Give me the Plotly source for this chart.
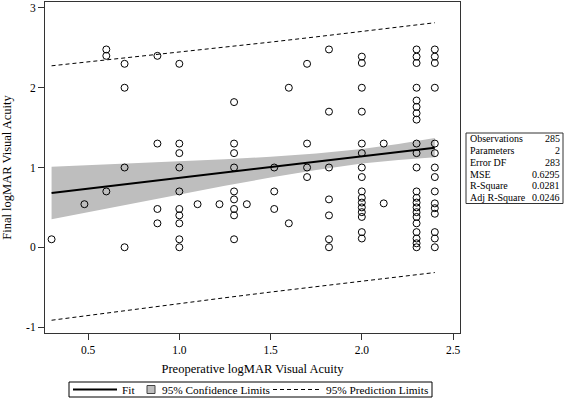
import plotly.graph_objects as go

# ---------------- data ----------------
pre_x = ([0.30] + [0.48] + [0.60] * 3 + [0.70] * 4 + [0.88] * 4 + [1.00] * 10 +
         [1.10] + [1.22] + [1.30] * 9 + [1.37] + [1.52] * 3 + [1.60] * 2 +
         [1.70] * 4 + [1.82] * 7 + [2.00] * 16 + [2.12] * 2 + [2.30] * 22 + [2.40] * 15)
final_y = ([0.10] +
           [0.54] +
           [2.48, 2.40, 0.70] +
           [2.30, 2.00, 1.00, 0.00] +
           [2.40, 1.30, 0.48, 0.30] +
           [2.30, 1.30, 1.18, 1.00, 0.70, 0.48, 0.40, 0.30, 0.10, 0.00] +
           [0.54] +
           [0.54] +
           [1.82, 1.30, 1.18, 1.00, 0.70, 0.60, 0.48, 0.40, 0.10] +
           [0.54] +
           [1.00, 0.70, 0.48] +
           [2.00, 0.30] +
           [2.30, 1.30, 1.00, 0.88] +
           [2.48, 1.70, 1.00, 0.60, 0.40, 0.10, 0.00] +
           [2.39, 2.31, 2.00, 1.70, 1.30, 1.18, 1.00, 0.88, 0.70, 0.62, 0.56, 0.50, 0.44, 0.38, 0.19, 0.11] +
           [1.30, 0.55] +
           [2.48, 2.39, 2.31, 2.00, 1.84, 1.76, 1.68, 1.60, 1.30, 1.18, 1.00, 0.70, 0.62, 0.56,
            0.50, 0.44, 0.38, 0.30, 0.19, 0.11, 0.05, 0.00] +
           [2.48, 2.39, 2.31, 2.00, 1.30, 1.18, 1.00, 0.88, 0.70, 0.55, 0.49, 0.42, 0.19, 0.11, 0.00])

band_x = [0.30, 0.65, 1.00, 1.25, 1.50, 1.75, 2.00, 2.20, 2.40]
fit_y = [0.680, 0.775, 0.870, 0.937, 1.005, 1.073, 1.141, 1.195, 1.249]
cl_lower = [0.350, 0.508, 0.663, 0.770, 0.875, 0.970, 1.049, 1.095, 1.129]
cl_upper = [1.010, 1.043, 1.077, 1.104, 1.135, 1.176, 1.233, 1.295, 1.369]
pl_lower = [-0.915, -0.809, -0.705, -0.633, -0.562, -0.492, -0.423, -0.370, -0.317]
pl_upper = [2.275, 2.359, 2.445, 2.507, 2.572, 2.638, 2.705, 2.760, 2.815]

x_ticks = [0.5, 1.0, 1.5, 2.0, 2.5]
x_tick_text = ["0.5", "1.0", "1.5", "2.0", "2.5"]
y_ticks = [-1, 0, 1, 2, 3]
y_tick_text = ["-1", "0", "1", "2", "3"]

stat_labels = ["Observations", "Parameters", "Error DF", "MSE", "R-Square", "Adj R-Square"]
stat_values = ["285", "2", "283", "0.6295", "0.0281", "0.0246"]

legend_labels = ["Fit", "95% Confidence Limits", "95% Prediction Limits"]

# ---------------- layout geometry ----------------
W, H = 564, 399
ML, MR, MT, MB = 45, 104, 2, 66
PW, PH = W - ML - MR, H - MT - MB


def px(xp):
    return (xp - ML) / PW


def py(yp):
    return (H - MB - yp) / PH


SERIF = "Liberation Serif, Times New Roman, serif"
BAND = "#bebebe"

fig = go.Figure()

# confidence band
fig.add_trace(go.Scatter(x=band_x, y=cl_lower, mode="lines", line=dict(width=0, color=BAND),
                         showlegend=False, hoverinfo="skip"))
fig.add_trace(go.Scatter(x=band_x, y=cl_upper, mode="lines", line=dict(width=0, color=BAND),
                         fill="tonexty", fillcolor=BAND, showlegend=False, hoverinfo="skip",
                         name=legend_labels[1]))

# observations
fig.add_trace(go.Scatter(x=pre_x, y=final_y, mode="markers", showlegend=False,
                         marker=dict(symbol="circle-open", size=7, color="black",
                                     line=dict(width=1, color="black"))))

# fit
fig.add_trace(go.Scatter(x=band_x, y=fit_y, mode="lines", name=legend_labels[0],
                         line=dict(color="black", width=2), showlegend=False))
# prediction limits
fig.add_trace(go.Scatter(x=band_x, y=pl_lower, mode="lines", name=legend_labels[2],
                         line=dict(color="black", width=1, dash="4px,3px"), showlegend=False))
fig.add_trace(go.Scatter(x=band_x, y=pl_upper, mode="lines", name=legend_labels[2],
                         line=dict(color="black", width=1, dash="4px,3px"), showlegend=False))

axis_common = dict(showgrid=False, zeroline=False, showline=True, mirror=True,
                   linecolor="#333", linewidth=1, ticks="outside", ticklen=6,
                   tickcolor="#333", tickfont=dict(family=SERIF, size=11.5, color="black"))

fig.update_xaxes(range=[0.264, 2.538], tickvals=x_ticks, ticktext=x_tick_text,
                 title=dict(text="Preoperative logMAR Visual Acuity",
                            font=dict(family=SERIF, size=12.5, color="black"), standoff=9),
                 **axis_common)
fig.update_yaxes(range=[-1.075, 3.075], tickvals=y_ticks, ticktext=y_tick_text,
                 title=dict(text="Final logMAR Visual Acuity",
                            font=dict(family=SERIF, size=12.5, color="black"), standoff=15),
                 **axis_common)

# statistics table
fig.add_shape(type="rect", xref="paper", yref="paper",
              x0=px(466), x1=px(563), y0=py(203.5), y1=py(133),
              line=dict(color="#333", width=1), fillcolor="white")
row_h = (203.5 - 133) / len(stat_labels)
for i, (lab, val) in enumerate(zip(stat_labels, stat_values)):
    yc = 133 + row_h * (i + 0.5)
    fig.add_annotation(x=px(468), y=py(yc), xref="paper", yref="paper", text=lab,
                       showarrow=False, xanchor="left", yanchor="middle",
                       font=dict(family=SERIF, size=10, color="black"))
    fig.add_annotation(x=px(562), y=py(yc), xref="paper", yref="paper", text=val,
                       showarrow=False, xanchor="right", yanchor="middle",
                       font=dict(family=SERIF, size=10, color="black"))

# legend (drawn as a compact boxed key like the reference)
LY = 389.5
fig.add_shape(type="rect", xref="paper", yref="paper", x0=px(69), x1=px(432),
              y0=py(397), y1=py(382), line=dict(color="black", width=1), fillcolor="white")
fig.add_shape(type="line", xref="paper", yref="paper", x0=px(73), x1=px(117),
              y0=py(LY), y1=py(LY), line=dict(color="black", width=2))
fig.add_shape(type="rect", xref="paper", yref="paper", x0=px(147), x1=px(155),
              y0=py(393.5), y1=py(385.5), line=dict(color="#444", width=1), fillcolor=BAND)
fig.add_shape(type="line", xref="paper", yref="paper", x0=px(273), x1=px(320),
              y0=py(LY), y1=py(LY), line=dict(color="black", width=1, dash="4px,3px"))
for lab, xl in zip(legend_labels, [120, 160, 324]):
    fig.add_annotation(x=px(xl), y=py(LY), xref="paper", yref="paper", text=lab,
                       showarrow=False, xanchor="left", yanchor="middle",
                       font=dict(family=SERIF, size=11.3, color="black"))

fig.update_layout(
    width=W, height=H,
    margin=dict(l=ML, r=MR, t=MT, b=MB, autoexpand=False),
    paper_bgcolor="white", plot_bgcolor="white",
    font=dict(family=SERIF, size=12, color="black"),
    showlegend=False,
)

fig.write_html("out.html", config={"displayModeBar": False},
               post_script="document.body.style.margin='0';document.body.style.overflow='hidden';")
